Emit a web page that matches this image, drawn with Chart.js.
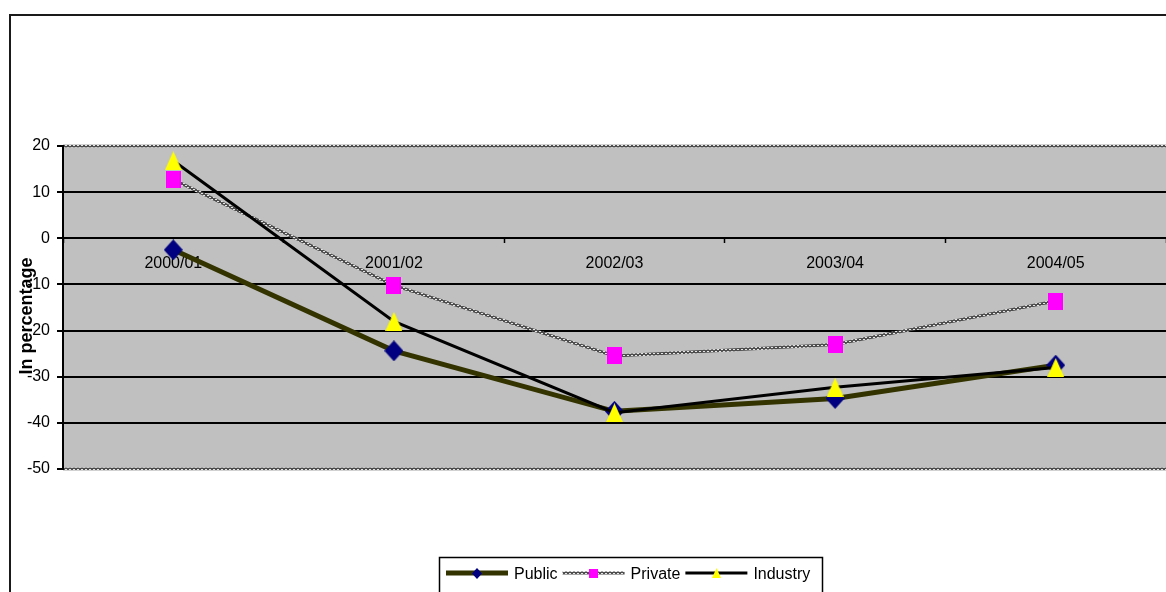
<!DOCTYPE html>
<html>
<head>
<meta charset="utf-8">
<title>Change in percentage, 2000/01 – 2004/05</title>
<script src="https://cdn.jsdelivr.net/npm/chart.js@4.4.1/dist/chart.umd.min.js"></script>
<style>
  html, body { margin: 0; padding: 0; background: #ffffff; }
  #wrap { width: 1166px; height: 592px; position: relative; }
</style>
</head>
<body>
<div id="wrap"><canvas id="chart" width="1166" height="592"></canvas></div>
<script>
// ---- data ----
const categories = ['2000/01', '2001/02', '2002/03', '2003/04', '2004/05'];
const publicValues   = [-2.5, -24.4, -37.5, -34.7, -27.5];
const privateValues  = [12.7, -10.2, -25.5, -23.0, -13.6];
const industryValues = [16.8, -18.0, -37.8, -32.3, -28.0];
const seriesNames = ['Public', 'Private', 'Industry'];
const yAxisTitle = 'In percentage';
const yMin = -50, yMax = 20, yStep = 10;

// ---- styling helpers ----
const FONT = "'Liberation Sans', Arial, 'DejaVu Sans', sans-serif";

function makeMarker(kind, w, h, color) {
  const c = document.createElement('canvas');
  c.width = w; c.height = h;
  const g = c.getContext('2d');
  g.fillStyle = color;
  g.beginPath();
  if (kind === 'diamond') {
    g.moveTo(w / 2, 0); g.lineTo(w, h / 2); g.lineTo(w / 2, h); g.lineTo(0, h / 2);
  } else if (kind === 'square') {
    g.rect(0, 0, w, h);
  } else {
    g.moveTo(w / 2, 0); g.lineTo(w, h); g.lineTo(0, h);
  }
  g.closePath();
  g.fill();
  return c;
}

// chain-like grey texture used for the Private line and the plot frame
function makeChainPattern() {
  const c = document.createElement('canvas');
  c.width = 4; c.height = 4;
  const g = c.getContext('2d');
  g.fillStyle = '#4d4d4d';
  g.fillRect(0, 0, 4, 4);
  g.fillStyle = '#e6e6e6';
  g.fillRect(1, 1, 2, 1);
  g.fillRect(3, 3, 1, 1);
  g.fillRect(0, 3, 1, 1);
  return g.createPattern(c, 'repeat');
}

const chain = makeChainPattern();

const markers = {
  Public:   makeMarker('diamond', 19, 21, '#000080'),
  Private:  makeMarker('square', 15, 17, '#ff00ff'),
  Industry: makeMarker('triangle', 17, 19, '#ffff00')
};
const legendMarkers = {
  Public:   makeMarker('diamond', 10, 11, '#000080'),
  Private:  makeMarker('square', 9, 9, '#ff00ff'),
  Industry: makeMarker('triangle', 9, 10, '#ffff00')
};
const lineStyles = {
  Public:   { color: '#333300', width: 5 },
  Private:  { color: chain, width: 3 },
  Industry: { color: '#000000', width: 3 }
};

// ---- plugins ----
const frameAndBackground = {
  id: 'frameAndBackground',
  beforeDraw(chart) {
    const { ctx, chartArea: a, width, height } = chart;
    ctx.save();
    ctx.fillStyle = '#ffffff';
    ctx.fillRect(0, 0, width, height);
    // outer chart border
    ctx.strokeStyle = '#1a1a1a';
    ctx.lineWidth = 2;
    ctx.strokeRect(10, 15, width + 20, height + 20);
    // plot area
    ctx.fillStyle = '#c0c0c0';
    ctx.fillRect(a.left, a.top, a.right - a.left, a.bottom - a.top);
    ctx.restore();
  },
  beforeDatasetsDraw(chart) {
    const { ctx, chartArea: a } = chart;
    ctx.save();
    ctx.strokeStyle = chain;
    ctx.lineWidth = 2.5;
    ctx.beginPath();
    ctx.moveTo(a.left, a.top); ctx.lineTo(a.right, a.top);
    ctx.moveTo(a.left, a.bottom); ctx.lineTo(a.right, a.bottom);
    ctx.stroke();
    // value axis line on top of the frame
    ctx.strokeStyle = '#000000';
    ctx.lineWidth = 2;
    ctx.beginPath();
    ctx.moveTo(a.left, a.top - 1); ctx.lineTo(a.left, a.bottom + 1);
    ctx.stroke();
    ctx.restore();
  }
};

const axisTitle = {
  id: 'axisTitle',
  afterDraw(chart) {
    const { ctx } = chart;
    ctx.save();
    ctx.translate(27, 316);
    ctx.rotate(-Math.PI / 2);
    ctx.font = 'bold 18px ' + FONT;
    ctx.fillStyle = '#000000';
    ctx.textAlign = 'center';
    ctx.textBaseline = 'middle';
    ctx.fillText(yAxisTitle, 0, 0);
    ctx.restore();
  }
};

const boxedLegend = {
  id: 'boxedLegend',
  afterDraw(chart) {
    const { ctx } = chart;
    const boxX = 439.5, boxY = 557.5, boxW = 383, boxH = 40;
    const lineY = 573, textY = 575, sampleLen = 62;
    ctx.save();
    ctx.fillStyle = '#ffffff';
    ctx.fillRect(boxX, boxY, boxW, boxH);
    ctx.strokeStyle = '#000000';
    ctx.lineWidth = 1.5;
    ctx.strokeRect(boxX, boxY, boxW, boxH);
    ctx.font = '16px ' + FONT;
    ctx.textBaseline = 'middle';
    ctx.textAlign = 'left';
    let x = 446;
    chart.data.datasets.forEach(ds => {
      const name = ds.label;
      const st = lineStyles[name];
      ctx.strokeStyle = st.color;
      ctx.lineWidth = st.width;
      ctx.beginPath();
      ctx.moveTo(x, lineY); ctx.lineTo(x + sampleLen, lineY);
      ctx.stroke();
      const m = legendMarkers[name];
      ctx.drawImage(m, Math.round(x + sampleLen / 2 - m.width / 2), Math.round(lineY - m.height / 2));
      x += sampleLen + 6;
      ctx.fillStyle = '#000000';
      ctx.fillText(name, x, textY);
      x += ctx.measureText(name).width + 5;
    });
    ctx.restore();
  }
};

// ---- chart ----
function series(name, values, order) {
  return {
    label: name,
    data: values,
    borderColor: lineStyles[name].color,
    borderWidth: lineStyles[name].width,
    backgroundColor: 'transparent',
    pointStyle: markers[name],
    pointRadius: 10,
    pointHoverRadius: 10,
    tension: 0,
    fill: false,
    order: order
  };
}

new Chart(document.getElementById('chart'), {
  type: 'line',
  data: {
    labels: categories,
    datasets: [
      series(seriesNames[0], publicValues, 3),
      series(seriesNames[1], privateValues, 2),
      series(seriesNames[2], industryValues, 1)
    ]
  },
  options: {
    responsive: false,
    animation: false,
    events: [],
    layout: { autoPadding: false, padding: { top: 146, bottom: 123, left: 0, right: 0 } },
    plugins: { legend: { display: false }, tooltip: { enabled: false } },
    scales: {
      x: {
        type: 'category',
        offset: true,
        position: { y: 0 },
        afterFit(scale) { scale.paddingLeft = 0; scale.paddingRight = 0; },
        border: { display: false },
        grid: {
          offset: true,
          drawOnChartArea: false,
          drawTicks: true,
          tickLength: 5,
          tickColor: '#000000',
          tickWidth: 1.5
        },
        ticks: {
          color: '#000000',
          font: { family: FONT, size: 16 },
          padding: 11,
          maxRotation: 0,
          autoSkip: false
        }
      },
      y: {
        position: 'left',
        min: yMin,
        max: yMax,
        afterFit(scale) { scale.width = 63; scale.paddingTop = 0; scale.paddingBottom = 0; },
        border: { display: false },
        grid: {
          color: ctx => (ctx.tick && (ctx.tick.value === yMax || ctx.tick.value === yMin)) ? 'rgba(0,0,0,0)' : '#000000',
          lineWidth: 2,
          drawTicks: true,
          tickLength: 6,
          tickColor: '#000000',
          tickWidth: 2
        },
        ticks: {
          stepSize: yStep,
          color: '#000000',
          font: { family: FONT, size: 16 },
          padding: 7
        }
      }
    }
  },
  plugins: [frameAndBackground, axisTitle, boxedLegend]
});
</script>
</body>
</html>
